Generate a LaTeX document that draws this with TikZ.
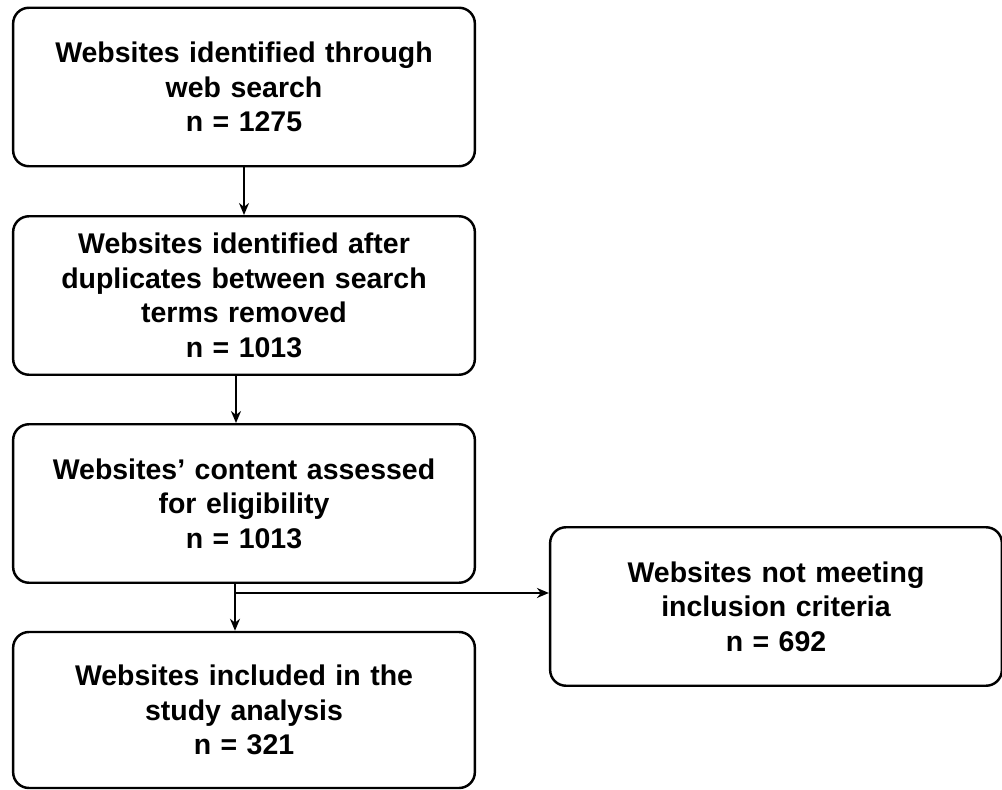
\documentclass[tikz,border=0pt]{standalone}
\usepackage{fontspec}
\setmainfont{Liberation Sans}
\usetikzlibrary{arrows.meta,positioning,calc}

\begin{document}
\begin{tikzpicture}[
    flowbox/.style={
      draw=black,
      rounded corners=9pt,
      line width=1.4pt,
      minimum width=9.2cm,
      minimum height=3.17cm,
      text width=9cm,
      align=center,
      font=\bfseries\fontsize{16.2}{19.6}\selectfont
    },
    arrow/.style={
      -{Stealth[length=2.4mm,width=2mm]},
      line width=1.1pt,
      draw=black
    }]

    \useasboundingbox (0,0) rectangle (20.04,-15.8);

    % Main column
    \node[flowbox] (s1) at (4.88,-1.74) {Websites identified through\\web search\\n = 1275};
    \node[flowbox] (s2) at (4.88,-5.91) {Websites identified after\\duplicates between search\\terms removed\\n = 1013};
    \node[flowbox] (s3) at (4.88,-10.07) {Websites’ content assessed\\for eligibility\\n = 1013};
    \node[flowbox,minimum height=3.12cm] (s4) at (4.88,-14.2) {Websites included in the\\study analysis\\n = 321};

    % Excluded
    \node[flowbox,minimum width=9.0cm,text width=8.8cm] (s5) at (15.52,-12.13) {Websites not meeting\\inclusion criteria\\n = 692};

    % Connective arrows
    \draw[arrow] (s1.south) -- (s2.north);
    \draw[arrow] ([xshift=-1.6mm]s2.south) -- ([xshift=-1.6mm]s3.north);
    \draw[arrow] ([xshift=-1.8mm]s3.south) -- ([xshift=-1.8mm]s4.north);
    \coordinate (split) at ([xshift=-1.8mm,yshift=-1.8mm]s3.south);
    \draw[arrow] (split) -- (split -| s5.west);
  \end{tikzpicture}
\end{document}
